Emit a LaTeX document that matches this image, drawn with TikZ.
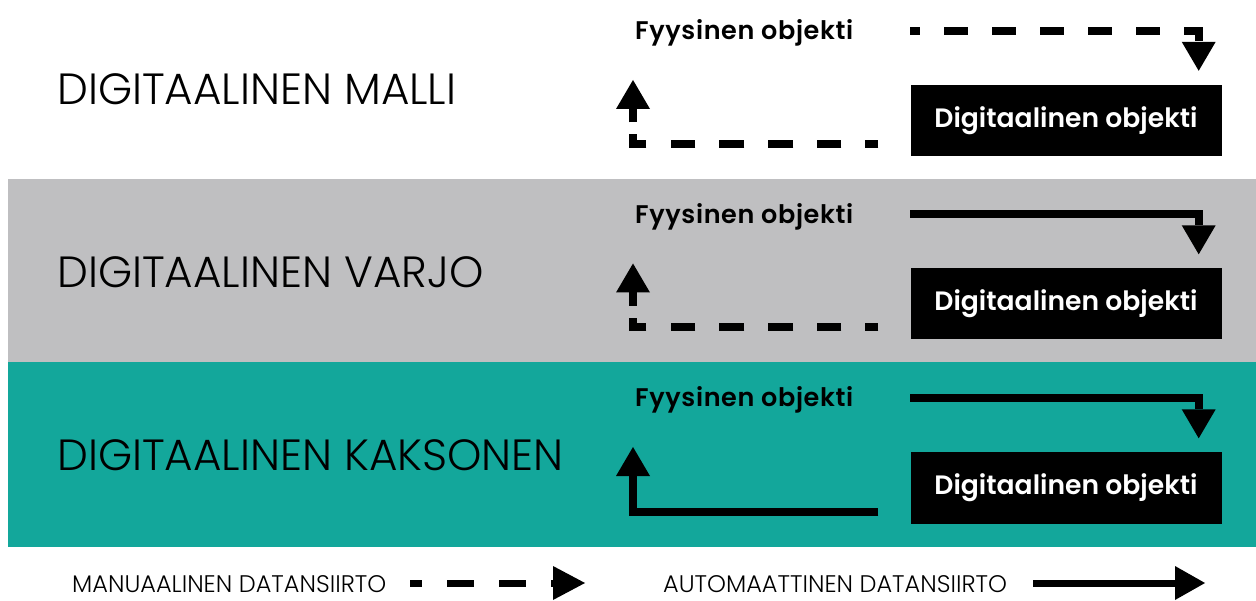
\documentclass[tikz,border=0pt]{standalone}
\usepackage{fontspec}
\usetikzlibrary{arrows.meta,calc}

% Fonts: a light geometric sans for headings and the legend, a heavier cut for labels
\IfFontExistsTF{Poppins Light}{\def\thinname{Poppins Light}}{%
  \IfFontExistsTF{Lato Light}{\def\thinname{Lato Light}}{\def\thinname{Lato}}}
\IfFontExistsTF{Poppins SemiBold}{\def\heavyname{Poppins SemiBold}}{\def\heavyname{Poppins Bold}}
\setmainfont{Poppins}
\newfontfamily\thinfont{\thinname}
\newfontfamily\legendfont{\thinname}
\newfontfamily\labelfont[LetterSpace=2.5]{\heavyname}
\newfontfamily\boxfont{\heavyname}

\definecolor{bandgray}{RGB}{191,191,193}
\definecolor{bandteal}{RGB}{19,167,155}

\begin{document}
\begin{tikzpicture}[x=1pt,y=-1pt,
  titletext/.style={inner sep=0pt,font=\thinfont\fontsize{43.7}{44}\selectfont,text=black},
  phystext/.style={inner sep=0pt,font=\labelfont\fontsize{25.5}{26}\selectfont,text=black},
  digibox/.style={fill=black,text=white,minimum width=311pt,minimum height=71pt,
    inner sep=0pt,font=\boxfont\fontsize{26.6}{27}\selectfont},
  legendtext/.style={inner sep=0pt,font=\legendfont\fontsize{24}{24}\selectfont,text=black},
  bighead/.style={-{Triangle[width=34pt,length=29pt,line width=0pt]}},
  flowauto/.style={bighead,line width=8pt},
  fwdmanual/.style={bighead,line width=8pt,dash pattern=on 24pt off 24pt,dash phase=14pt},
  % return path: regular dashes, a corner piece, then a short stub under the head
  retmanual/.style={bighead,line width=8pt,
    dash pattern=on 13pt off 24pt on 24pt off 24pt on 25pt off 24pt on 25pt off 24pt
                 on 24pt off 25pt on 23pt off 12pt on 40pt off 40pt},
  legmanual/.style={-{Triangle[width=34pt,length=32pt,line width=0pt]},line width=7pt,
    dash pattern=on 27pt off 25pt,dash phase=15pt},
  legauto/.style={-{Triangle[width=34pt,length=30pt,line width=0pt]},line width=7pt},
]
\useasboundingbox (0,0) rectangle (1256,601);
\fill[white] (0,0) rectangle (1256,601);

% background bands
\fill[bandgray] (8,179) rectangle (1256,362);
\fill[bandteal] (8,362) rectangle (1256,547);

% row 1: digital model
\node[titletext,anchor=base west] (title1) at (57,105) {DIGITAALINEN MALLI};
\node[phystext,anchor=base west] (phys1) at (635,40) {Fyysinen objekti};
\node[digibox] (digi1) at (1066,120.5) {Digitaalinen objekti};
\coordinate (fwd1) at (digi1.west |- 0,31);
\coordinate (down1) at ($(digi1.north east)+(-23,-14)$);
\coordinate (ret1) at ($(digi1.west)+(-32,23.5)$);
\coordinate (up1) at (633,80);
\draw[fwdmanual] (fwd1) -| (down1);
\draw[retmanual] (ret1) -| (up1);

% row 2: digital shadow
\node[titletext,anchor=base west] (title2) at (57,288) {DIGITAALINEN VARJO};
\node[phystext,anchor=base west] (phys2) at (635,223.5) {Fyysinen objekti};
\node[digibox] (digi2) at (1066,304) {Digitaalinen objekti};
\coordinate (fwd2) at (digi2.west |- 0,214);
\coordinate (down2) at ($(digi2.north east)+(-23,-14)$);
\coordinate (ret2) at ($(digi2.west)+(-32,23.5)$);
\coordinate (up2) at (633,263.5);
\draw[flowauto] (fwd2) -| (down2);
\draw[retmanual] (ret2) -| (up2);

% row 3: digital twin
\node[titletext,anchor=base west] (title3) at (57,471) {DIGITAALINEN KAKSONEN};
\node[phystext,anchor=base west] (phys3) at (635,407) {Fyysinen objekti};
\node[digibox] (digi3) at (1066,488) {Digitaalinen objekti};
\coordinate (fwd3) at (digi3.west |- 0,398);
\coordinate (down3) at ($(digi3.north east)+(-23,-14)$);
\coordinate (ret3) at ($(digi3.west)+(-32,23.5)$);
\coordinate (up3) at (633,447);
\draw[flowauto] (fwd3) -| (down3);
\draw[flowauto] (ret3) -| (up3);

% legend
\node[legendtext,anchor=base west] (manual) at (72,592) {MANUAALINEN DATANSIIRTO};
\node[legendtext,anchor=base west] (automatic) at (663,592) {AUTOMAATTINEN DATANSIIRTO};
\coordinate (mstart) at (410,583);
\coordinate (mend) at (585,583);
\coordinate (astart) at (1033,583);
\coordinate (aend) at (1205,583);
\draw[legmanual] (mstart) -- (mend);
\draw[legauto] (astart) -- (aend);
\end{tikzpicture}
\end{document}
